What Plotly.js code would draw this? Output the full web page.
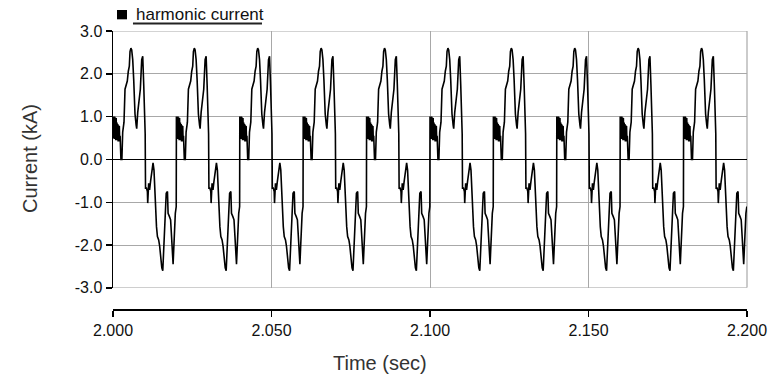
<!DOCTYPE html>
<html>
<head>
<meta charset="utf-8">
<script src="https://cdn.plot.ly/plotly-3.0.1.min.js"></script>
<style>html,body{margin:0;padding:0;background:#fff;}#chart{width:771px;height:383px;}</style>
</head>
<body>
<div id="chart"></div>
<script>
// One steady-state cycle: offset in ms from the cycle start, current in kA
const cycleMs = [0.00,0.12,0.25,0.37,0.50,0.62,0.75,0.87,1.00,1.12,1.25,1.37,1.50,1.62,1.75,1.87,2.00,2.12,2.25,2.50,2.80,
  3.06,3.47,3.79,4.10,4.51,4.83,5.15,5.37,5.65,5.90,6.22,6.53,6.72,6.94,7.30,7.48,7.80,8.21,8.62,9.06,9.38,9.69,9.88,10.15,10.26,
  10.56,10.85,10.95,11.25,11.54,11.84,12.24,12.63,12.93,13.23,13.42,13.72,14.02,14.41,14.71,15.01,15.40,15.70,16.00,16.19,16.49,
  16.79,17.18,17.38,17.78,18.17,18.47,18.77,18.96,19.16,19.36,19.66,19.95];
const cycleKA = [1.00,0.50,1.00,0.48,1.00,0.50,0.98,0.45,0.97,0.47,0.86,0.45,0.83,0.42,0.80,0.45,0.78,0.42,0.55,0.00,0.00,
  0.64,0.87,1.64,1.75,1.83,2.06,2.18,2.52,2.60,2.56,2.33,1.87,1.48,1.06,0.80,0.72,1.10,1.45,1.64,2.33,2.41,1.75,1.18,0.60,-0.67,
  -0.67,-0.75,-1.02,-0.56,-0.71,-0.52,-0.33,-0.08,-0.25,-0.79,-1.41,-1.57,-1.80,-1.88,-2.02,-2.26,-2.53,-2.60,-2.03,-1.64,-1.33,
  -0.79,-0.75,-1.26,-1.33,-1.41,-1.80,-2.42,-2.45,-2.10,-1.57,-1.26,-1.10];
// Start time (s) of each of the ten 50 Hz cycles shown
const cycleStarts = [2.00,2.02,2.04,2.06,2.08,2.10,2.12,2.14,2.16,2.18];

const xTickVals = [2.00,2.05,2.10,2.15,2.20];
const xTickText = ["2.000","2.050","2.100","2.150","2.200"];
const yTickVals = [-3,-2,-1,0,1,2,3];
const yTickText = ["-3.0","-2.0","-1.0","0.0","1.0","2.0","3.0"];

const seriesName = "harmonic current";

const tVals = [], iVals = [];
cycleStarts.forEach(function(s){
  cycleMs.forEach(function(ms, k){
    tVals.push(s + ms/1000);
    iVals.push(cycleKA[k]);
  });
});

const FONT = "Arial, 'Liberation Sans', sans-serif";
const GRID = '#a8a8a8';
const trace = {
  x: tVals, y: iVals, type: 'scatter', mode: 'lines', name: seriesName,
  line: {color: '#000000', width: 1.6}, showlegend: false, hoverinfo: 'skip'
};

const layout = {
  width: 771, height: 383,
  margin: {l: 113, r: 24, t: 31, b: 74, pad: 0},
  paper_bgcolor: '#ffffff', plot_bgcolor: '#ffffff',
  font: {family: FONT, size: 16, color: '#111111'},
  showlegend: false,
  xaxis: {
    range: [2.0, 2.2], anchor: 'free', position: 0,
    tickmode: 'array', tickvals: xTickVals, ticktext: xTickText,
    showline: true, linecolor: '#000000', linewidth: 1.5,
    ticks: 'outside', ticklen: 6, tickcolor: '#000000', tickwidth: 1.5,
    showgrid: true, gridcolor: GRID, gridwidth: 1,
    zeroline: false, tickfont: {family: FONT, size: 16, color: '#111111'}
  },
  yaxis: {
    range: [-3, 3], domain: [0.076, 1],
    tickmode: 'array', tickvals: yTickVals, ticktext: yTickText,
    showline: true, linecolor: '#000000', linewidth: 1.5,
    ticks: 'outside', ticklen: 6, tickcolor: '#000000', tickwidth: 1.5,
    showgrid: true, gridcolor: GRID, gridwidth: 1,
    zeroline: true, zerolinecolor: '#000000', zerolinewidth: 1.5,
    tickfont: {family: FONT, size: 16, color: '#111111'}
  },
  shapes: [
    // plot frame (top, bottom, right) in grid colour
    {type: 'line', xref: 'paper', yref: 'y', x0: 0, x1: 1, y0: 3, y1: 3, layer: 'below', line: {color: GRID, width: 1.2}},
    {type: 'line', xref: 'paper', yref: 'y', x0: 0, x1: 1, y0: -3, y1: -3, layer: 'below', line: {color: GRID, width: 1.2}},
    {type: 'line', xref: 'paper', yref: 'y', x0: 1, x1: 1, y0: -3, y1: 3, layer: 'below', line: {color: GRID, width: 1.2}},
    // legend swatch and underline
    {type: 'rect', xref: 'paper', yref: 'paper', x0: 0.0063, x1: 0.0221, y0: 1.042, y1: 1.0755,
     fillcolor: '#000000', line: {width: 0}},
    {type: 'line', xref: 'paper', yref: 'paper', x0: 0.0315, x1: 0.235, y0: 1.027, y1: 1.027,
     line: {color: '#222222', width: 1.8}}
  ],
  annotations: [
    {text: seriesName, xref: 'paper', yref: 'paper', x: 0.0331, y: 1.0576, xanchor: 'left', yanchor: 'middle',
     showarrow: false, font: {family: FONT, size: 17, color: '#111111'}},
    {text: 'Time (sec)', xref: 'paper', yref: 'paper', x: 0.421, y: -0.196, xanchor: 'center', yanchor: 'middle',
     showarrow: false, font: {family: FONT, size: 20, color: '#333333'}},
    {text: 'Current (kA)', xref: 'paper', yref: 'paper', x: -0.1309, y: 0.5396, xanchor: 'center', yanchor: 'middle',
     textangle: -90, showarrow: false, font: {family: FONT, size: 20, color: '#333333'}}
  ]
};

Plotly.newPlot('chart', [trace], layout, {staticPlot: true, displayModeBar: false});
</script>
</body>
</html>
